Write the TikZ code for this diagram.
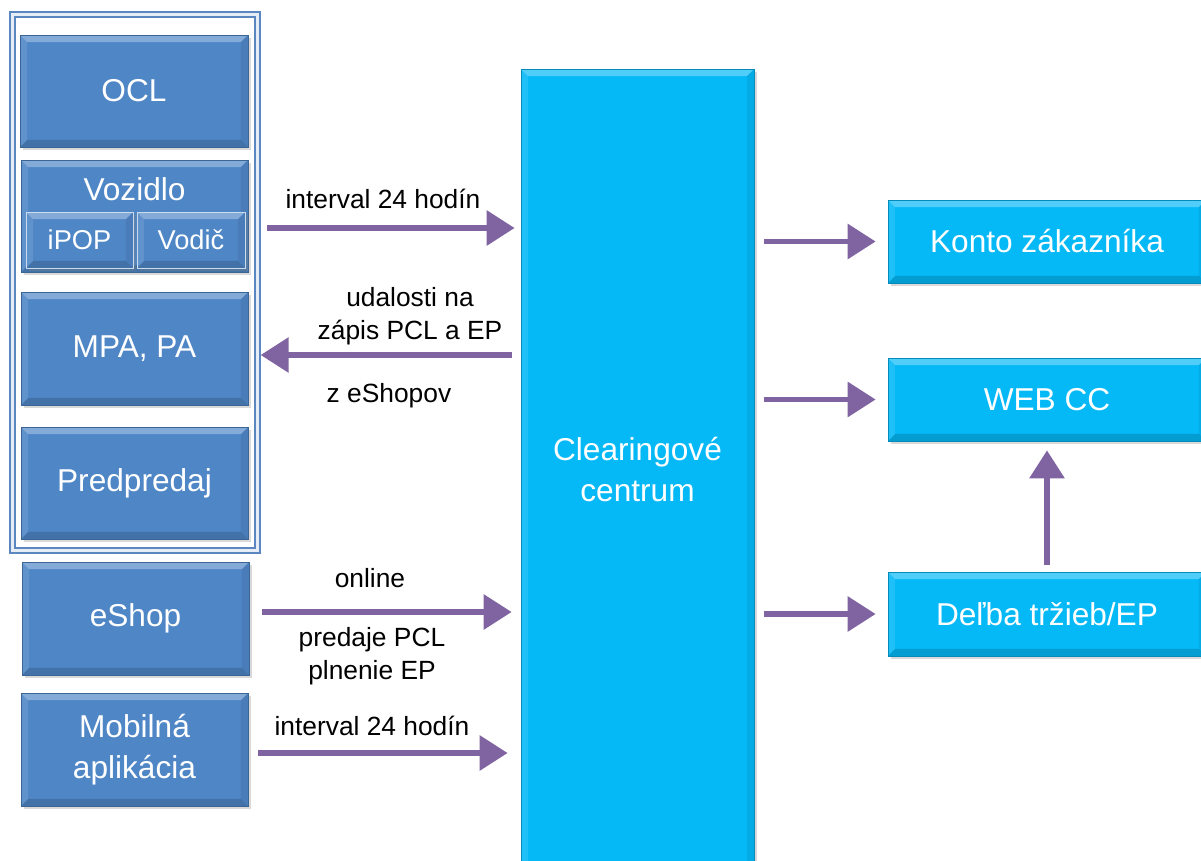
\documentclass[tikz,border=0pt]{standalone}
\usepackage{fontspec}
\setmainfont{Liberation Sans}
\usetikzlibrary{arrows.meta,shadows}

\definecolor{boxblue}{HTML}{4F86C6}
\definecolor{boxcyan}{HTML}{05B9F7}
\definecolor{arrowpurple}{HTML}{8064A2}
\definecolor{frameblue}{HTML}{5A87C0}

\tikzset{
  bevel/.style={path picture={
    \fill[white,opacity=.3] (path picture bounding box.north west) -- (path picture bounding box.north east)
      -- ([shift={(-4pt,-4pt)}]path picture bounding box.north east) -- ([shift={(4pt,-4pt)}]path picture bounding box.north west) -- cycle;
    \fill[white,opacity=.1] (path picture bounding box.north west) -- (path picture bounding box.south west)
      -- ([shift={(4pt,4pt)}]path picture bounding box.south west) -- ([shift={(4pt,-4pt)}]path picture bounding box.north west) -- cycle;
    \fill[black,opacity=.15] (path picture bounding box.south west) -- (path picture bounding box.south east)
      -- ([shift={(-4pt,4pt)}]path picture bounding box.south east) -- ([shift={(4pt,4pt)}]path picture bounding box.south west) -- cycle;
    \fill[black,opacity=.07] (path picture bounding box.north east) -- (path picture bounding box.south east)
      -- ([shift={(-4pt,4pt)}]path picture bounding box.south east) -- ([shift={(-4pt,-4pt)}]path picture bounding box.north east) -- cycle;
  }},
  bluebox/.style={fill=boxblue, draw=boxblue!75!black, line width=0.4pt, text=white,
    font=\fontsize{18}{23}\selectfont, align=center, inner sep=0pt, bevel,
    drop shadow={opacity=0.3, shadow xshift=1.5pt, shadow yshift=-1.5pt}},
  cyanbox/.style={bluebox, fill=boxcyan, draw=boxcyan!75!black},
  arr/.style={line width=3.4pt, color=arrowpurple, -{Triangle[length=0.56cm,width=0.68cm]}},
  lbl/.style={font=\fontsize{15}{19}\selectfont, align=center}
}

\begin{document}
\begin{tikzpicture}[x=0.02cm, y=-0.02cm]
  \useasboundingbox (0,0) rectangle (1201,860);

  % left group
  \node[draw=frameblue, line width=1.3pt, double=white!85!frameblue, double distance=1.6pt,
    minimum width=4.9cm, minimum height=10.72cm] (frame) at (135,282.5) {};

  \node[bluebox, minimum width=4.56cm, minimum height=2.24cm] (ocl) at (134,91) {OCL};
  \node[bluebox, minimum width=4.54cm, minimum height=2.24cm,
    label={[anchor=north, text=white, font=\fontsize{18}{23}\selectfont, yshift=-0.24cm]north:Vozidlo}] (vozidlo) at (134.5,216) {};
  \node[bluebox, draw=white!70!boxblue, font=\fontsize{15.5}{18}\selectfont,
    minimum width=2.14cm, minimum height=1.12cm] (ipop) at (79.5,240) {iPOP};
  \node[bluebox, draw=white!70!boxblue, font=\fontsize{15.5}{18}\selectfont,
    minimum width=2.16cm, minimum height=1.12cm] (vodic) at (191,240) {Vodič};
  \node[bluebox, minimum width=4.54cm, minimum height=2.26cm] (mpa) at (134.5,348.5) {MPA, PA};
  \node[bluebox, minimum width=4.54cm, minimum height=2.24cm] (predpredaj) at (134.5,483) {Predpredaj};

  \node[bluebox, minimum width=4.54cm, minimum height=2.26cm] (eshop) at (135.5,618.5) {eShop};
  \node[bluebox, minimum width=4.54cm, minimum height=2.26cm] (mobil) at (134.5,749.5) {Mobilná\\aplikácia};

  % clearing centre
  \node[cyanbox, minimum width=4.66cm, minimum height=16.02cm] (cc) at (637.5,469.5) {Clearingové\\centrum};

  % right side
  \node[cyanbox, minimum width=6.36cm, minimum height=1.66cm] (konto) at (1047,241.5) {Konto zákazníka};
  \node[cyanbox, minimum width=6.36cm, minimum height=1.66cm] (webcc) at (1047,399.5) {WEB CC};
  \node[cyanbox, minimum width=6.36cm, minimum height=1.68cm] (delba) at (1047,614) {Deľba tržieb/EP};

  % arrows
  \draw[arr, shorten <=0.16cm, shorten >=0.12cm] (frame.east |- 0,228) -- (cc.west |- 0,228);
  \draw[arr, shorten <=0.18cm, shorten >=0.04cm] (cc.west |- 0,355) -- (frame.east |- 0,355);
  \draw[arr, shorten <=0.26cm, shorten >=0.18cm] (eshop.east |- 0,612) -- (cc.west |- 0,612);
  \draw[arr, shorten <=0.2cm, shorten >=0.26cm] (mobil.east |- 0,753) -- (cc.west |- 0,753);

  \draw[arr, shorten <=0.2cm, shorten >=0.24cm] (cc.east |- konto) -- (konto);
  \draw[arr, shorten <=0.2cm, shorten >=0.24cm] (cc.east |- webcc) -- (webcc);
  \draw[arr, shorten <=0.2cm, shorten >=0.24cm] (cc.east |- delba) -- (delba);
  \draw[arr, shorten <=0.14cm, shorten >=0.18cm] (delba) -- (webcc);

  % labels
  \node[lbl] (l24a) at (383,199) {interval 24 hodín};
  \node[lbl] (ludal) at (410,316) {udalosti na\\zápis PCL a EP};
  \node[lbl] (leshop) at (389,396) {z eShopov};
  \node[lbl] (lonline) at (370,578) {online};
  \node[lbl] (lpred) at (372,656) {predaje PCL\\plnenie EP};
  \node[lbl] (l24b) at (372,726) {interval 24 hodín};
\end{tikzpicture}
\end{document}
